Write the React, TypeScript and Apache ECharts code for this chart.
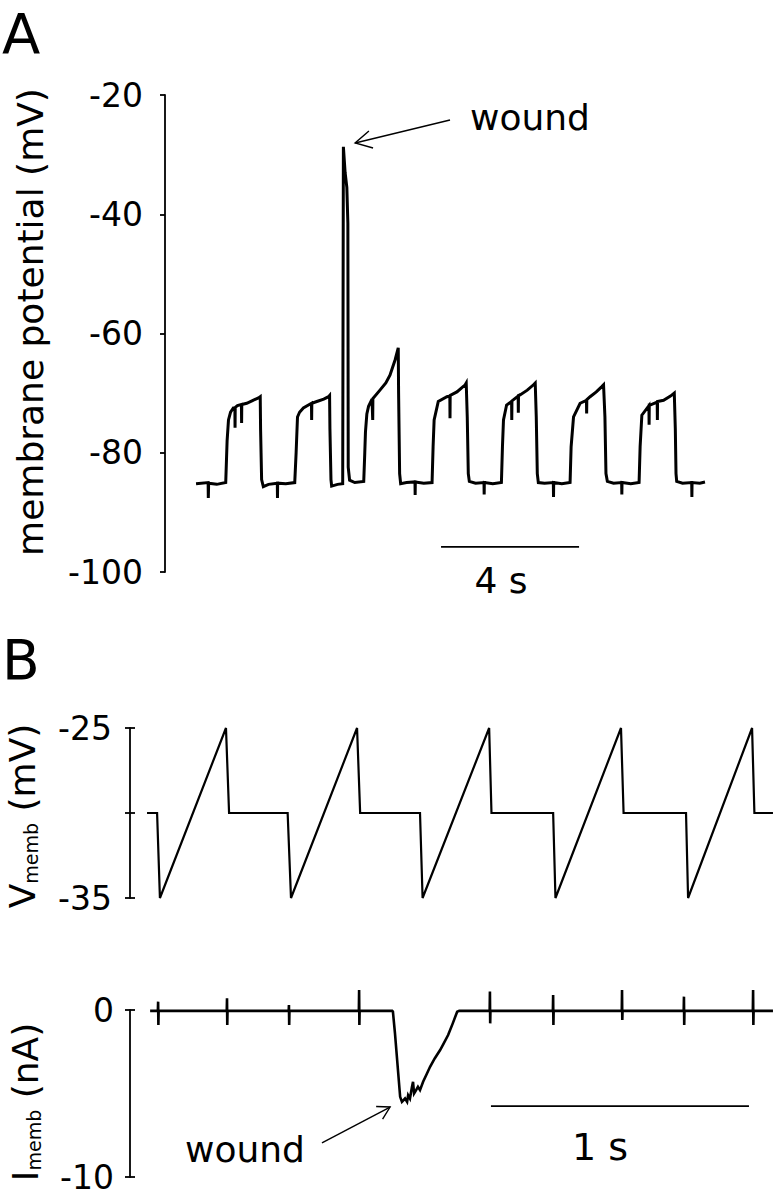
import React, { useEffect, useRef } from "react";
import * as echarts from "echarts";

const FONT = "DejaVu Sans";

// ---------- Panel A : time (s) vs membrane potential (mV) ----------
const aYTicks = { min: -100, max: -20, interval: 20 };

const aStart: [number, number][] = [
  [0, -85.2], [0.35, -85.0], [0.355, -87.6], [0.365, -85.1], [0.6, -85.3], [0.86, -85.0],
];
const aPulse1: [number, number][] = [
  [0.87, -85], [0.9, -78], [0.94, -74.5], [1.0, -73.2], [1.08, -72.5], [1.125, -72.5],
  [1.13, -75.8], [1.135, -72.4], [1.2, -72.1], [1.315, -71.9], [1.32, -75.0], [1.325, -71.9],
  [1.47, -71.7], [1.65, -71.2], [1.81, -70.8], [1.86, -70.6], [1.87, -76], [1.9, -84.5],
  [1.95, -85.7], [2.1, -85.3], [2.355, -85.1], [2.36, -87.6], [2.365, -85.1], [2.6, -85.2], [2.86, -85.0],
];
const aPulse2: [number, number][] = [
  [2.87, -85], [2.9, -80], [2.94, -74], [3.0, -73.2], [3.11, -72.5], [3.345, -71.7],
  [3.35, -74.5], [3.355, -71.7], [3.5, -71.4], [3.7, -71.0], [3.84, -70.6], [3.87, -70.4],
  [3.88, -76], [3.91, -84.5], [3.93, -85.6], [4.1, -85.3], [4.25, -85.2],
];
const aWoundSpike: [number, number][] = [
  [4.27, -28.7], [4.32, -33], [4.37, -35.5], [4.4, -41.5], [4.405, -60], [4.41, -82.4],
  [4.45, -84.6], [4.6, -85.0], [4.86, -84.8],
];
const aPulse3: [number, number][] = [
  [4.87, -84.8], [4.89, -80], [4.91, -76.5], [4.95, -73.5], [5.0, -72.2], [5.1, -71.0],
  [5.115, -71.0], [5.12, -74.5], [5.125, -70.9], [5.33, -69.5], [5.5, -68.3], [5.62, -67.0],
  [5.77, -64.4], [5.86, -62.4], [5.87, -70], [5.9, -83.5], [5.93, -85.2], [6.1, -85.0],
  [6.345, -84.9], [6.35, -87.1], [6.355, -84.9], [6.6, -85.1], [6.84, -85.0],
];
const aPulse4: [number, number][] = [
  [6.85, -85], [6.87, -79], [6.9, -74.5], [7.02, -71.4], [7.27, -70.6], [7.355, -70.5],
  [7.36, -74.2], [7.365, -70.4], [7.56, -69.8], [7.8, -68.6], [7.83, -68.3], [7.86, -74],
  [7.89, -83.5], [7.92, -84.8], [8.1, -85.1], [8.345, -85.0], [8.35, -87.0], [8.355, -85.0],
  [8.6, -85.2], [8.85, -85.0],
];
const aPulse5: [number, number][] = [
  [8.86, -85], [8.88, -79], [8.91, -74.5], [9.0, -72.0], [9.145, -71.4], [9.15, -74.5],
  [9.155, -71.3], [9.335, -70.5], [9.34, -73.3], [9.345, -70.4], [9.39, -70.3], [9.6, -69.5],
  [9.78, -68.6], [9.83, -68.3], [9.86, -74], [9.89, -83.5], [9.92, -85.0], [10.1, -85.1],
  [10.355, -85.0], [10.36, -87.4], [10.365, -85.0], [10.6, -85.2], [10.84, -85.0],
];
const aPulse6: [number, number][] = [
  [10.85, -85], [10.87, -79], [10.94, -74.0], [11.13, -71.7], [11.315, -71.2], [11.32, -73.4],
  [11.325, -71.1], [11.42, -70.6], [11.6, -69.8], [11.76, -68.9], [11.81, -68.6], [11.85, -74],
  [11.88, -83.5], [11.92, -84.8], [12.1, -85.1], [12.335, -85.0], [12.34, -87.0], [12.345, -85.0],
  [12.6, -85.2], [12.84, -85.0],
];
const aPulse7: [number, number][] = [
  [12.85, -85], [12.87, -79], [12.92, -73.7], [13.125, -72.1], [13.13, -75.3], [13.135, -72.0],
  [13.16, -72.0], [13.365, -71.5], [13.37, -74.5], [13.375, -71.4], [13.55, -71.2], [13.75, -70.5],
  [13.86, -70.0], [13.89, -76], [13.91, -83.5], [13.93, -84.8], [14.1, -85.1], [14.365, -85.0],
  [14.37, -87.4], [14.375, -85.0], [14.6, -85.1], [14.75, -84.9],
];
const aScaleBar: [number, number][] = [[7.1, -95.8], [11.1, -95.8]];
const aArrowShaft: [number, number][] = [[7.36, -24.19], [4.61, -28.05]];
const aArrowHead: [number, number][] = [[5.01, -26.04], [4.61, -28.05], [5.13, -28.89]];

// ---------- Panel B : time (ms) ----------
const vYTicks = { min: -35, max: -25, interval: 5 };
const vYLabels = [-35, -25];
const iYTicks = { min: -10, max: 0, interval: 10 };
const iYLabels = [-10, 0];

const vmemb: [number, number][] = [
  [0, -30], [39, -30], [50, -35], [306, -25], [318, -30],
  [545, -30], [558, -35], [814, -25], [826, -30],
  [1058, -30], [1068, -35], [1326, -25], [1335, -30],
  [1574, -30], [1583, -35], [1837, -25], [1847, -30],
  [2089, -30], [2097, -35], [2345, -25], [2354, -30], [2426, -30],
];

const imembBefore: [number, number][] = [
  [12, -0.05], [42, -0.05], [43, 0.5], [44, -0.9], [45, -0.05],
  [309, -0.05], [310, 0.7], [311, -0.9], [312, -0.05],
  [549, -0.05], [550, 0.3], [551, -0.9], [552, -0.05],
  [821, -0.05], [822, 1.2], [823, -0.9], [824, -0.05], [950, -0.05],
];
const imembWound: [number, number][] = [
  [953, -0.1], [961, -1.4], [981, -5.2], [988, -5.5], [1000, -5.3], [1008, -5.5],
  [1012, -5.1], [1019, -5.3], [1027, -4.6], [1031, -4.3], [1035, -5.0], [1039, -4.9],
  [1050, -4.6], [1058, -4.8], [1070, -4.3], [1085, -3.8], [1097, -3.4], [1115, -2.9],
  [1136, -2.4], [1150, -2.0], [1167, -1.5], [1185, -0.8], [1202, -0.1], [1210, -0.05],
];
const imembAfter: [number, number][] = [
  [1328, -0.05], [1329, 1.1], [1330, -0.8], [1331, -0.05],
  [1573, -0.05], [1574, 0.9], [1575, -0.9], [1576, -0.05],
  [1840, -0.05], [1841, 1.2], [1842, -0.6], [1843, -0.05],
  [2080, -0.05], [2081, 0.8], [2082, -0.9], [2083, -0.05],
  [2348, -0.05], [2349, 1.2], [2350, -0.9], [2351, -0.05], [2426, -0.05],
];
const bScaleBar: [number, number][] = [[1333, -5.75], [2333, -5.75]];
const bArrowShaft: [number, number][] = [[678, -7.96], [942, -5.81]];
const bArrowHead: [number, number][] = [[888, -5.78], [942, -5.81], [913, -6.53]];

const traceA = [
  ...aStart, ...aPulse1, ...aPulse2, ...aWoundSpike, ...aPulse3,
  ...aPulse4, ...aPulse5, ...aPulse6, ...aPulse7,
];
const imemb = [...imembBefore, ...imembWound, ...imembAfter];

function lineSeries(data: [number, number][], axis: number, yAxis: number, width: number) {
  return {
    type: "line",
    xAxisIndex: axis,
    yAxisIndex: yAxis,
    data,
    showSymbol: false,
    symbol: "none",
    clip: false,
    silent: true,
    lineStyle: { color: "#000", width, cap: "butt", join: "miter" },
  };
}

type Ticks = { min: number; max: number; interval: number };

function yAxisMain(grid: number, t: Ticks, margin: number, labels?: number[]) {
  return {
    type: "value",
    gridIndex: grid,
    position: "left",
    min: t.min,
    max: t.max,
    interval: t.interval,
    axisLine: { show: true, onZero: false, lineStyle: { color: "#000", width: 1.8 } },
    axisTick: { show: true, inside: false, length: 5, lineStyle: { color: "#000", width: 1.8 } },
    axisLabel: {
      show: true, color: "#000", fontSize: 33, fontFamily: FONT, margin,
      formatter: (v: number) => (!labels || labels.includes(v) ? String(v) : ""),
    },
    splitLine: { show: false },
  };
}
function yAxisInner(grid: number, t: Ticks) {
  return {
    type: "value",
    gridIndex: grid,
    position: "left",
    min: t.min,
    max: t.max,
    interval: t.interval,
    axisLine: { show: false, onZero: false },
    axisTick: { show: true, inside: true, length: 5, lineStyle: { color: "#000", width: 1.8 } },
    axisLabel: { show: false },
    splitLine: { show: false },
  };
}

export default function App() {
  const ref = useRef<HTMLDivElement>(null);
  useEffect(() => {
    if (!ref.current) return;
    const chart = echarts.init(ref.current, null, { renderer: "svg" });
    const textStyle = (size: number) => ({ fontSize: size, fontFamily: FONT, fill: "#000" });
    const rich = {
      m: { fontSize: 36, fontFamily: FONT, lineHeight: 36, verticalAlign: "middle", fill: "#000" },
      s: { fontSize: 19, fontFamily: FONT, lineHeight: 12, verticalAlign: "bottom", fill: "#000" },
    };
    chart.setOption({
      animation: false,
      backgroundColor: "#fff",
      grid: [
        { left: 165, top: 95, width: 609, height: 477, outerBoundsMode: "none", containLabel: false },
        { left: 130, top: 728, width: 644, height: 170, outerBoundsMode: "none", containLabel: false },
        { left: 130, top: 1010, width: 644, height: 167, outerBoundsMode: "none", containLabel: false },
      ],
      xAxis: [
        { type: "value", gridIndex: 0, min: -0.9, max: 16.75, show: false },
        { type: "value", gridIndex: 1, min: -66, max: 2430, show: false },
        { type: "value", gridIndex: 2, min: -66, max: 2430, show: false },
      ],
      yAxis: [
        yAxisMain(0, aYTicks, 22),
        yAxisMain(1, vYTicks, 18, vYLabels),
        yAxisInner(1, vYTicks),
        yAxisMain(2, iYTicks, 16, iYLabels),
        yAxisInner(2, iYTicks),
      ],
      series: [
        lineSeries(traceA, 0, 0, 3),
        lineSeries(aScaleBar, 0, 0, 1.8),
        lineSeries(aArrowShaft, 0, 0, 1.4),
        lineSeries(aArrowHead, 0, 0, 1.4),
        lineSeries(vmemb, 1, 1, 2.2),
        lineSeries(imemb, 2, 3, 2.6),
        lineSeries(bScaleBar, 2, 3, 1.8),
        lineSeries(bArrowShaft, 2, 3, 1.4),
        lineSeries(bArrowHead, 2, 3, 1.4),
      ],
      graphic: [
        { type: "text", x: 2, y: 33, style: { text: "A", ...textStyle(56), verticalAlign: "middle" } },
        { type: "text", x: 2, y: 660, style: { text: "B", ...textStyle(55), verticalAlign: "middle" } },
        {
          type: "text", x: 30, y: 322, rotation: Math.PI / 2,
          style: { text: "membrane potential (mV)", ...textStyle(36), align: "center", verticalAlign: "middle" },
        },
        {
          type: "text", x: 22, y: 816, rotation: Math.PI / 2,
          style: { text: "{m|V}{s|memb}{m| (mV)}", ...textStyle(36), align: "center", verticalAlign: "middle", rich },
        },
        {
          type: "text", x: 25, y: 1102, rotation: Math.PI / 2,
          style: { text: "{m|I}{s|memb}{m| (nA)}", ...textStyle(36), align: "center", verticalAlign: "middle", rich },
        },
        { type: "text", x: 470, y: 117, style: { text: "wound", ...textStyle(36), verticalAlign: "middle" } },
        { type: "text", x: 185, y: 1149, style: { text: "wound", ...textStyle(36), verticalAlign: "middle" } },
        { type: "text", x: 501, y: 580, style: { text: "4 s", ...textStyle(36), align: "center", verticalAlign: "middle" } },
        { type: "text", x: 600, y: 1147, style: { text: "1 s", ...textStyle(38), align: "center", verticalAlign: "middle" } },
      ],
    });
    return () => chart.dispose();
  }, []);
  return (
    <div
      ref={ref}
      style={{ position: "absolute", left: 0, top: 0, width: 774, height: 1199, background: "#fff" }}
    />
  );
}
